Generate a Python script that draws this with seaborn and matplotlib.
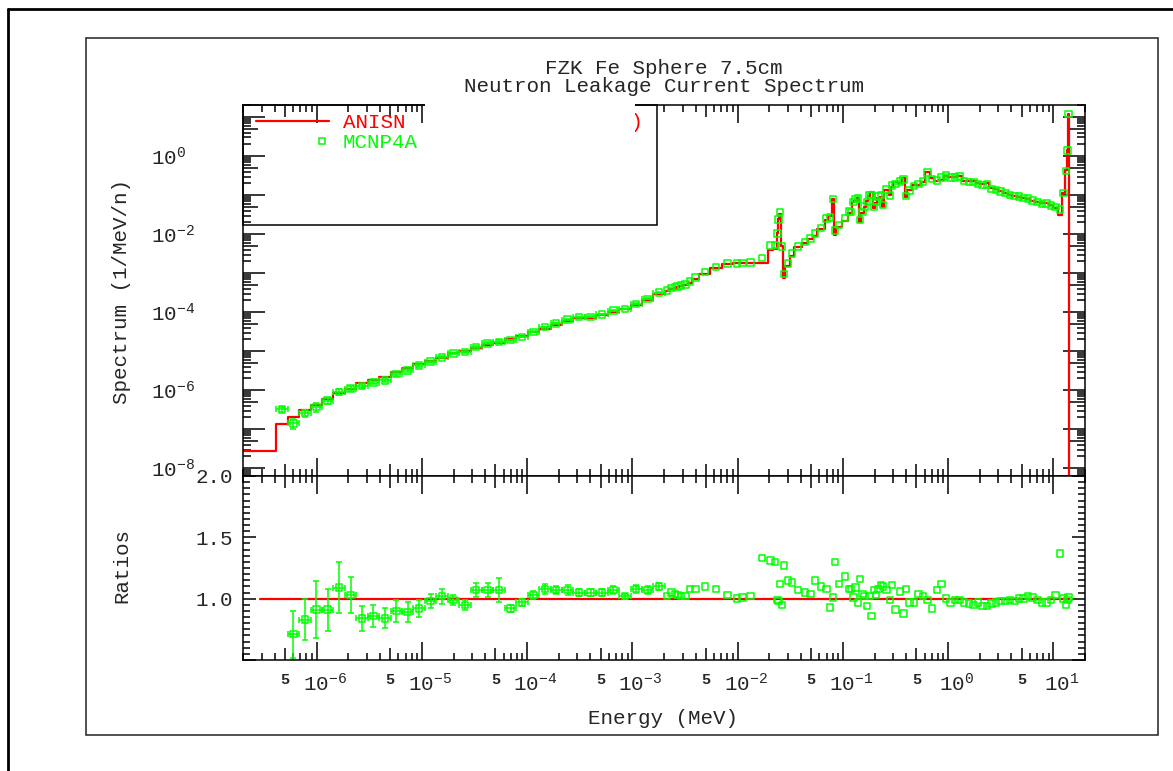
"""
FZK Fe sphere (7.5 cm): neutron leakage current spectrum.
ANISN group spectrum (step line) against MCNP4A tallies (squares),
with the MCNP4A / ANISN ratio in the lower panel.
"""

import numpy as np
import seaborn as sns
import matplotlib.pyplot as plt
from matplotlib import ticker, transforms
from matplotlib.lines import Line2D
from matplotlib.patches import Rectangle
from matplotlib.legend_handler import HandlerLine2D

# energy group boundaries (MeV)
group_edges = [
    1.0e-7, 4.140e-7, 5.316e-7, 6.826e-7, 8.764e-7, 1.125e-6, 1.445e-6,
    1.855e-6, 2.382e-6, 3.059e-6, 3.928e-6, 5.044e-6, 6.476e-6, 8.315e-6,
    1.068e-5, 1.371e-5, 1.760e-5, 2.260e-5, 2.902e-5, 3.727e-5, 4.785e-5,
    6.144e-5, 7.889e-5, 1.013e-4, 1.301e-4, 1.670e-4, 2.145e-4, 2.754e-4,
    3.536e-4, 4.540e-4, 5.830e-4, 7.485e-4, 9.611e-4, 1.234e-3, 1.585e-3,
    2.035e-3,
    2.249e-3, 2.485e-3, 2.613e-3, 2.747e-3, 3.035e-3, 3.355e-3, 3.707e-3,
    4.307e-3, 5.531e-3, 7.102e-3, 9.119e-3, 1.060e-2, 1.171e-2, 1.503e-2,
    1.931e-2, 2.188e-2, 2.358e-2, 2.418e-2, 2.479e-2, 2.606e-2, 2.700e-2,
    2.850e-2, 3.183e-2, 3.431e-2, 4.087e-2, 4.631e-2, 5.248e-2, 5.656e-2,
    6.738e-2, 7.200e-2, 7.950e-2, 8.250e-2, 8.652e-2, 9.804e-2, 1.111e-1,
    1.168e-1, 1.228e-1, 1.291e-1, 1.357e-1, 1.426e-1, 1.500e-1, 1.576e-1,
    1.657e-1, 1.742e-1, 1.832e-1, 1.926e-1, 2.024e-1, 2.128e-1, 2.237e-1,
    2.352e-1, 2.472e-1, 2.732e-1, 2.873e-1, 3.020e-1, 3.337e-1, 3.688e-1,
    3.877e-1, 4.076e-1, 4.505e-1,
    4.979e-1, 5.502e-1, 6.081e-1, 6.721e-1, 7.427e-1, 8.209e-1, 9.072e-1,
    1.003, 1.108, 1.225, 1.353, 1.496, 1.653, 1.827, 2.019, 2.231, 2.466,
    2.725, 3.012, 3.329, 3.679, 4.066, 4.493, 4.966, 5.488, 6.065, 6.703,
    7.408, 8.187, 9.048, 10.0, 11.05, 12.21, 12.84, 13.50, 13.84, 14.19,
    19.64,
]

# ANISN spectrum per group, log10(1/MeV/n), up to 14.19 MeV
anisn_log_flux = [
    -7.556, -6.87, -6.70, -6.51, -6.385, -6.23, -6.08, -5.97, -5.82, -5.74,
    -5.67, -5.54, -5.44, -5.33, -5.26, -5.17, -5.05, -5.00, -4.92, -4.83,
    -4.79, -4.68, -4.62, -4.52, -4.42, -4.32, -4.22, -4.15, -4.14, -4.08,
    -3.99, -3.93, -3.82, -3.69, -3.54,
    -3.46, -3.40, -3.37, -3.35, -3.33, -3.30, -3.25, -3.15, -3.01, -2.88,
    -2.77, -2.75, -2.74, -2.74, -2.74, -2.41, -2.39, -1.98, -1.62, -1.48,
    -2.30, -3.12, -2.81, -2.55, -2.34, -2.22, -2.13, -2.04, -1.88, -1.63,
    -1.54, -1.10, -2.02, -1.82, -1.66,
    -1.45, -1.46, -1.18, -1.14, -1.08, -1.70, -1.45, -1.30, -1.15, -1.01,
    -0.93, -1.33, -1.19, -1.07, -1.04, -1.30, -0.88, -1.00, -0.80, -0.67,
    -0.68, -0.55, -1.05, -0.87,
    -0.75, -0.73, -0.66, -0.42, -0.55, -0.65, -0.60, -0.50, -0.54, -0.54,
    -0.52, -0.63, -0.64, -0.64, -0.70, -0.72, -0.70, -0.82, -0.85, -0.90,
    -0.94, -0.99, -1.02, -1.04, -1.07, -1.10, -1.14, -1.17, -1.21, -1.20,
    -1.26, -1.32, -1.50, -0.95, -0.36, 0.15, 1.07,
]
# nothing above the 14 MeV source group
anisn_above_source = 0.0

# MCNP4A / ANISN for the groups from 4.14e-7 MeV to 14.19 MeV
mcnp_ratio = [
    2.38, 0.71, 0.83, 0.91, 0.91, 1.09, 1.03, 0.84, 0.86, 0.84,
    0.90, 0.89, 0.92, 0.98, 1.02, 0.99, 0.95, 1.07, 1.07, 1.07,
    0.92, 0.97, 1.03, 1.08, 1.07, 1.07, 1.05, 1.05, 1.05, 1.07,
    1.02, 1.08, 1.07, 1.10,
    1.02, 1.05, 1.04, 1.03, 1.02, 1.02, 1.08, 1.08, 1.10, 1.08,
    1.03, 1.00, 1.01, 1.02, 1.33, 1.31, 1.30, 0.99, 0.98, 1.12,
    0.95, 1.27, 1.15, 1.13, 1.07, 1.05, 1.04, 1.15, 1.10, 1.08,
    0.93, 1.01, 1.30, 1.12, 1.18,
    1.08, 1.08, 1.01, 1.09, 0.97, 1.16, 1.04, 1.02, 0.94, 1.02,
    0.86, 1.07, 1.03, 1.08, 1.11, 1.10, 1.07, 0.99, 1.11, 0.91,
    1.06, 0.88, 1.08, 0.97,
    0.97, 1.04, 1.02, 0.99, 0.92, 1.07, 1.12, 1.00, 0.97, 0.99,
    0.99, 0.97, 0.96, 0.95, 0.97, 0.94, 0.94, 0.96, 0.97, 0.98,
    0.98, 0.99, 0.98, 1.00, 1.00, 1.02, 1.01, 0.99, 0.97, 0.97,
    0.99, 1.03, 1.37, 1.00, 0.95, 0.99, 1.01,
]
# statistical error of the ratio, only the low energy groups show bars
mcnp_ratio_err = [
    0.35, 0.19, 0.17, 0.23, 0.17, 0.21, 0.15, 0.10, 0.09, 0.08,
    0.09, 0.08, 0.07, 0.06, 0.06, 0.04, 0.04, 0.06, 0.06, 0.10,
    0.03, 0.03, 0.03, 0.04, 0.03, 0.04, 0.03, 0.03, 0.03, 0.03,
    0.02, 0.03, 0.03, 0.03,
]

ratio_line_energy = [2.9e-7, 14.19]
ratio_line_value = [1.0, 1.0]

# axis ticks and labels
energy_decades = [1e-6, 1e-5, 1e-4, 1e-3, 1e-2, 1e-1, 1e0, 1e1]
energy_fives = [5e-7, 5e-6, 5e-5, 5e-4, 5e-3, 5e-2, 5e-1, 5e0]
spectrum_decades = [1e-8, 1e-7, 1e-6, 1e-5, 1e-4, 1e-3, 1e-2, 1e-1, 1e0,
                    1e1]
spectrum_fives = [5e-9, 5e-8, 5e-7, 5e-6, 5e-5, 5e-4, 5e-3, 5e-2, 5e-1,
                  5e0]
ratio_ticks = [0.5, 1.0, 1.5, 2.0]
ratio_tick_labels = ["", "1.0", "1.5", "2.0"]

title_text = "FZK Fe Sphere 7.5cm\nNeutron Leakage Current Spectrum"
anisn_label = "ANISN" + " " * 18 + ")"
mcnp_label = "MCNP4A"

RED = "#ff0000"
GREEN = "#00ff00"
W, H = 1173, 771
FONT = 15

sns.set_style("ticks")
plt.rcParams["font.family"] = ["Liberation Mono", "DejaVu Sans Mono"]
plt.rcParams["mathtext.fontset"] = "custom"
plt.rcParams["mathtext.rm"] = "Liberation Mono"
plt.rcParams["mathtext.it"] = "Liberation Mono"
plt.rcParams["mathtext.bf"] = "Liberation Mono:bold"


class RightMarker(HandlerLine2D):
    """ Legend handler that puts the single marker near the right end. """
    def get_xdata(self, legend, xdescent, ydescent, width, height, fontsize):
        xdata = np.array([-xdescent + 0.8 * width, -xdescent + width])
        return xdata, np.array([-xdescent + 0.9 * width])


def fig_box(x0, y0, x1, y1):
    """ pixel box (origin top left) -> figure fraction rect """
    return [x0 / W, 1 - y1 / H, (x1 - x0) / W, (y1 - y0) / H]


def energy_label(v, pos):
    exp = int(np.floor(np.log10(v) + 1e-9))
    if np.isclose(v, 10.0 ** exp, rtol=1e-6, atol=0):
        return rf"$10^{{{exp}}}$"
    return "5"


def spectrum_label(v, pos):
    exp = int(round(np.log10(v)))
    if not np.isclose(v, 10.0 ** exp, rtol=1e-6, atol=0) or exp % 2:
        return ""
    return rf"$10^{{{exp}}}$"


def size_major_ticks(axis, decades, long_len, mid_len):
    """ decades get long ticks, the 5's get medium ones """
    locs = axis.get_majorticklocs()
    for tick, loc in zip(axis.get_major_ticks(len(locs)), locs):
        n = long_len if np.any(np.isclose(loc, decades, rtol=1e-6,
                                          atol=0)) else mid_len
        tick.tick1line.set_markersize(n)
        tick.tick2line.set_markersize(n)


def style_axes(ax):
    for spine in ax.spines.values():
        spine.set_color("black")
        spine.set_linewidth(1.1)
    ax.set_facecolor("white")
    ax.tick_params(which="both", direction="in", top=True, right=True,
                   color="black", width=1.1, labelsize=FONT)


# derived group quantities
edges = np.array(group_edges)
lo, hi = edges[:-1], edges[1:]
mid = np.sqrt(lo * hi)
anisn = np.append(10.0 ** np.array(anisn_log_flux), anisn_above_source)
step_y = np.append(anisn, anisn[-1])

ratio = np.array(mcnp_ratio)
m_lo, m_hi, m_mid = lo[1:-1], hi[1:-1], mid[1:-1]
mcnp = anisn[1:-1] * ratio
n_err = len(mcnp_ratio_err)
err = np.array(mcnp_ratio_err)
xerr = [m_mid[:n_err] - m_lo[:n_err], m_hi[:n_err] - m_mid[:n_err]]

fig = plt.figure(figsize=(W / 100, H / 100), dpi=100)
fig.patch.set_facecolor("white")
ax_spec = fig.add_axes(fig_box(243, 105, 1085, 476))
ax_ratio = fig.add_axes(fig_box(243, 476, 1085, 660))

# spectrum panel
sns.lineplot(x=edges, y=step_y, ax=ax_spec, color=RED, lw=1.6,
             drawstyle="steps-post", estimator=None, sort=False, zorder=2)
ax_spec.errorbar(m_mid[:n_err], mcnp[:n_err],
                 yerr=mcnp[:n_err] * err / ratio[:n_err], xerr=xerr,
                 fmt="none", ecolor=GREEN, elinewidth=1.1, capsize=2.2,
                 capthick=1.1, zorder=3)
sns.scatterplot(x=m_mid, y=mcnp, ax=ax_spec, marker="s", s=22, color=GREEN,
                facecolor="none", edgecolor=GREEN, linewidth=1.1, zorder=4)

# ratio panel
sns.lineplot(x=ratio_line_energy, y=ratio_line_value, ax=ax_ratio,
             color=RED, lw=1.6, zorder=2)
ax_ratio.errorbar(m_mid[:n_err], ratio[:n_err], yerr=err, xerr=xerr,
                  fmt="none", ecolor=GREEN, elinewidth=1.1, capsize=2.2,
                  capthick=1.1, zorder=3)
sns.scatterplot(x=m_mid, y=ratio, ax=ax_ratio, marker="s", s=22,
                color=GREEN, facecolor="none", edgecolor=GREEN,
                linewidth=1.1, zorder=4)

for ax in (ax_spec, ax_ratio):
    ax.set_xscale("log")
    ax.set_xlim(2e-7, 20)
    ax.xaxis.set_major_locator(
        ticker.FixedLocator(sorted(energy_decades + energy_fives)))
    ax.xaxis.set_minor_locator(
        ticker.LogLocator(base=10, subs=(2, 3, 4, 6, 7, 8, 9), numticks=30))
    ax.xaxis.set_minor_formatter(ticker.NullFormatter())
    ax.set_xlabel("")
    ax.set_ylabel("")
    style_axes(ax)
    ax.tick_params(axis="x", which="minor", length=5)

ax_spec.set_yscale("log")
ax_spec.set_ylim(10 ** -8.2, 10 ** 1.31)
ax_spec.yaxis.set_major_locator(
    ticker.FixedLocator(sorted(spectrum_decades + spectrum_fives)))
ax_spec.yaxis.set_major_formatter(ticker.FuncFormatter(spectrum_label))
ax_spec.yaxis.set_minor_locator(
    ticker.LogLocator(base=10, subs=(2, 3, 4, 6, 7, 8, 9), numticks=30))
ax_spec.yaxis.set_minor_formatter(ticker.NullFormatter())
ax_spec.xaxis.set_major_formatter(ticker.NullFormatter())
ax_spec.tick_params(axis="y", which="minor", length=5.8)
ax_spec.tick_params(axis="y", which="major", pad=66)

ax_ratio.set_ylim(0.5, 2.0)
ax_ratio.yaxis.set_major_locator(ticker.FixedLocator(ratio_ticks))
ax_ratio.yaxis.set_major_formatter(ticker.FixedFormatter(ratio_tick_labels))
ax_ratio.yaxis.set_minor_locator(ticker.MultipleLocator(0.05))
ax_ratio.xaxis.set_major_formatter(ticker.FuncFormatter(energy_label))
ax_ratio.tick_params(axis="y", which="major", length=9.4, pad=7)
ax_ratio.tick_params(axis="y", which="minor", length=5)
ax_ratio.tick_params(axis="x", which="major", pad=9)

size_major_ticks(ax_spec.xaxis, energy_decades, 13, 8.6)
size_major_ticks(ax_ratio.xaxis, energy_decades, 13, 8.6)
size_major_ticks(ax_spec.yaxis, spectrum_decades, 15.8, 10.8)

for t in ax_spec.get_yticklabels():
    t.set_ha("left")

# "10" of each decade label sits over its tick, the 5's are small and bold
shift = transforms.ScaledTranslation(8 / 100, 0, fig.dpi_scale_trans)
locs = ax_ratio.xaxis.get_majorticklocs()
for tick, loc in zip(ax_ratio.xaxis.get_major_ticks(len(locs)), locs):
    if np.any(np.isclose(loc, energy_decades, rtol=1e-6, atol=0)):
        tick.label1.set_transform(tick.label1.get_transform() + shift)
    else:
        tick.label1.set_fontsize(11)
        tick.label1.set_fontweight("bold")

# axis titles
ax_spec.set_ylabel("Spectrum (1/MeV/n)", fontsize=FONT)
ax_spec.yaxis.set_label_coords(-0.133, 0.497)
ax_ratio.set_ylabel("Ratios", fontsize=FONT)
ax_ratio.yaxis.set_label_coords(-0.133, 0.516)
ax_ratio.set_xlabel("Energy (MeV)", fontsize=FONT)
ax_ratio.xaxis.set_label_coords(0.499, -0.268)
ax_spec.set_title(title_text, fontsize=FONT, linespacing=0.95, pad=9)

# legend box in the upper left corner
ax_spec.add_patch(Rectangle((0, 0.6765), 0.4917, 0.3235,
                            transform=ax_spec.transAxes, fill=False,
                            edgecolor="black", lw=1.1, zorder=5,
                            clip_on=False))
h_anisn = Line2D([], [], color=RED, lw=1.6)
h_mcnp = Line2D([], [], color=GREEN, marker="s", ms=4.5, mfc="none",
                mew=1.1, ls="none")
leg = ax_spec.legend([h_anisn, h_mcnp], [anisn_label, mcnp_label],
                     loc="upper left", bbox_to_anchor=(0.0154, 0.978),
                     frameon=False, fontsize=FONT, handlelength=3.5,
                     handletextpad=0.67, labelspacing=0.05, borderpad=0,
                     borderaxespad=0,
                     handler_map={h_mcnp: RightMarker(numpoints=1)})
leg.get_texts()[0].set_color(RED)
leg.get_texts()[1].set_color(GREEN)

# white patch over the middle of the legend, as in the original
fig.add_artist(Rectangle((425 / W, 1 - 147 / H), 210 / W, 48 / H,
                         transform=fig.transFigure, facecolor="white",
                         edgecolor="none", zorder=10))

# page frames
fig.add_artist(Rectangle((86 / W, 1 - 735 / H), 1072 / W, 697 / H,
                         transform=fig.transFigure, fill=False,
                         edgecolor="#333333", lw=1.2))
fig.add_artist(Line2D([8 / W, 8 / W], [0, 1 - 9 / H],
                      transform=fig.transFigure, color="black", lw=2))
fig.add_artist(Line2D([8 / W, 1], [1 - 9 / H, 1 - 9 / H],
                      transform=fig.transFigure, color="black", lw=2))

fig.savefig("out.png", dpi=100, facecolor="white")
